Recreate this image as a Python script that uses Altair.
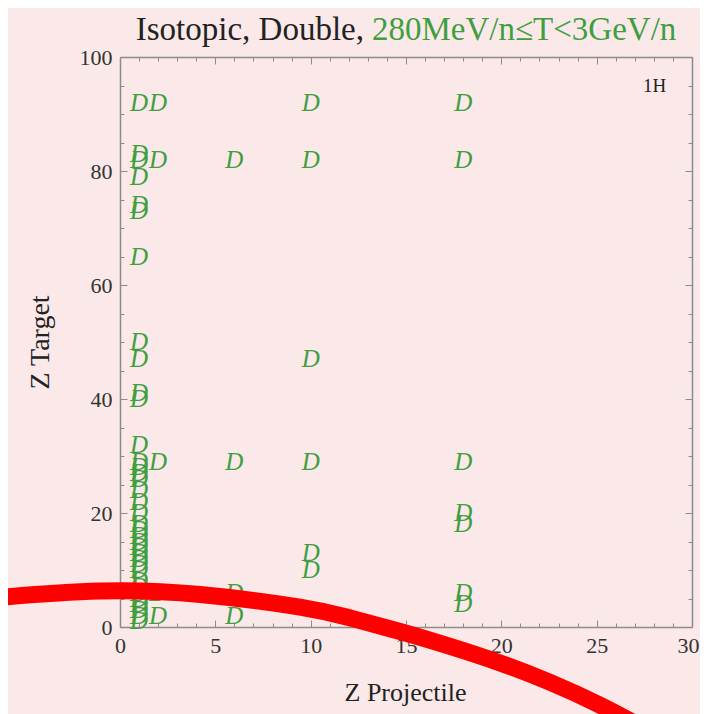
import altair as alt
import pandas as pd

# ---- data ----
col_x1 = [92, 83, 82, 79, 74, 73, 65, 50, 47, 41, 40, 32, 29, 28, 27, 26, 24, 22,
          20, 18, 17, 16, 15, 14, 13, 12, 11, 10, 8, 7, 6, 5, 4, 3, 2, 1]
col_x2 = [92, 82, 29, 6, 2]
col_x6 = [82, 29, 6, 2]
col_x10 = [92, 82, 47, 29, 13, 10]
col_x18 = [92, 82, 29, 20, 18, 6, 4]
projectiles = [1, 2, 6, 10, 18]
targets_by_proj = [col_x1, col_x2, col_x6, col_x10, col_x18]

# red annotation arc drawn over the figure (data coords)
arc_x = [-6.82, -6.29, -1.05, 4.20, 9.44, 12.06, 14.69, 17.31, 19.93, 22.55, 25.17, 27.27]
arc_y = [5.0, 5.2, 6.3, 5.7, 3.5, 1.6, -0.8, -3.4, -6.3, -9.7, -13.7, -17.4]

x_ticks = list(range(0, 31))
y_ticks = list(range(0, 101, 5))

GREEN = "#3f9f3f"
FRAME = "#8c8c8c"
SERIF = "Liberation Serif"

rows = []
for p, ts in zip(projectiles, targets_by_proj):
    for t in ts:
        rows.append({"zp": p, "zt": t})
pts = pd.DataFrame(rows)
arc = pd.DataFrame({"x": arc_x, "y": arc_y, "o": list(range(len(arc_x)))})

xs = alt.Scale(domain=[0, 30], nice=False, zero=False)
ys = alt.Scale(domain=[0, 100], nice=False, zero=False)

x_tick_size = {"condition": {"test": "datum.value % 5 === 0", "value": -7}, "value": -4}
y_tick_size = {"condition": {"test": "datum.value % 20 === 0", "value": -7}, "value": -4}

x_bottom = alt.Axis(
    orient="bottom", values=x_ticks, grid=False,
    labelExpr="datum.value % 5 === 0 ? datum.label : ''",
    labelOffset={"condition": {"test": "datum.value === 30", "value": -4}, "value": 0},
    tickSize=x_tick_size, tickColor=FRAME, tickWidth=1,
    domainColor=FRAME, domainWidth=1.5,
    labelPadding=15, labelFont=SERIF, labelFontSize=22, labelColor="#333333",
    labelFlush=False, labelOverlap=False,
    title="Z  Projectile", titleFont=SERIF, titleFontSize=26, titleFontWeight="normal",
    titleColor="#222222", titleX=285, titleY=65, titleAlign="center", titleBaseline="middle",
)
y_left = alt.Axis(
    orient="left", values=y_ticks, grid=False,
    labelExpr="datum.value % 20 === 0 ? datum.label : ''",
    tickSize=y_tick_size, tickColor=FRAME, tickWidth=1,
    domainColor=FRAME, domainWidth=1.5,
    labelPadding=15, labelFont=SERIF, labelFontSize=22, labelColor="#333333",
    labelFlush=False, labelOverlap=False,
    title="Z  Target", titleFont=SERIF, titleFontSize=28, titleFontWeight="normal",
    titleColor="#222222", titleX=-80, titleY=285, titleAlign="center", titleBaseline="middle",
    titleAngle=270,
)
x_top = alt.Axis(
    orient="top", values=x_ticks, grid=False, labels=False, title=None,
    tickSize=x_tick_size, tickColor=FRAME, tickWidth=1,
    domainColor=FRAME, domainWidth=1.5,
)
y_right = alt.Axis(
    orient="right", values=y_ticks, grid=False, labels=False, title=None,
    tickSize=y_tick_size, tickColor=FRAME, tickWidth=1,
    domainColor=FRAME, domainWidth=1.5,
)

points = alt.Chart(pts).mark_text(
    text="D", font=SERIF, fontStyle="italic", fontSize=25, color=GREEN,
    align="center", baseline="middle",
).encode(
    x=alt.X("zp:Q", scale=xs, axis=x_bottom),
    y=alt.Y("zt:Q", scale=ys, axis=y_left),
)

redarc = alt.Chart(arc).mark_line(
    color="#ff0000", strokeWidth=17, clip=False, interpolate="natural", strokeCap="butt",
).encode(
    x=alt.X("x:Q", scale=xs, axis=x_top),
    y=alt.Y("y:Q", scale=ys, axis=y_right),
    order="o:Q",
)

title_black = alt.Chart(pd.DataFrame({"t": ["Isotopic, Double,"]})).mark_text(
    font=SERIF, fontSize=33, color="#222222", align="right", baseline="alphabetic",
).encode(text="t:N", x=alt.value(244), y=alt.value(-17))

title_green = alt.Chart(pd.DataFrame({"t": ["280MeV/n\u2264T<3GeV/n"]})).mark_text(
    font=SERIF, fontSize=33, color=GREEN, align="left", baseline="alphabetic",
).encode(text="t:N", x=alt.value(252), y=alt.value(-17))

label_1h = alt.Chart(pd.DataFrame({"t": ["1H"]})).mark_text(
    font=SERIF, fontSize=19, color="#222222", align="left", baseline="alphabetic",
).encode(text="t:N", x=alt.value(523), y=alt.value(35))

chart = alt.layer(points, label_1h, title_black, title_green, redarc).resolve_axis(
    x="independent", y="independent"
).properties(
    width=572, height=570,
    autosize=alt.AutoSizeParams(type="none"),
    padding={"left": 112, "top": 49, "right": 8, "bottom": 87},
    background="#fbe9ea",
).configure_view(stroke=None)

chart.save("out.html", embed_options={"renderer": "svg", "actions": False})
